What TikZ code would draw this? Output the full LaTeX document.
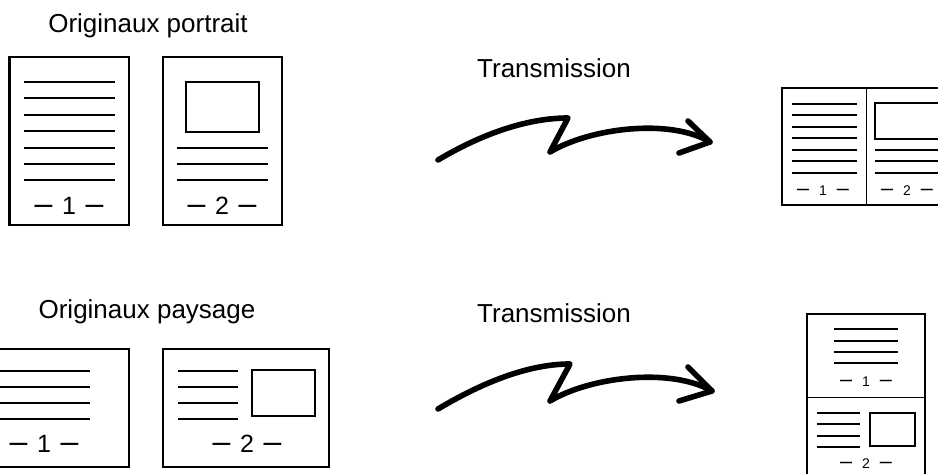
\documentclass[tikz,border=0pt]{standalone}
\usepackage{fontspec}
\setmainfont{Liberation Sans}
\usetikzlibrary{positioning}

% tirets des numeros de page
\newcommand{\pgdash}{{\fontsize{16}{16}\selectfont –}}
\newcommand{\spgdash}{{\fontsize{10.8}{11}\selectfont –}}

\begin{document}
\begin{tikzpicture}[
	x=0.5pt, y=-0.5pt,
	page/.style={draw, line width=1.25pt},
	fold/.style={draw, line width=0.5pt},
	txtline/.style={line width=1pt},
	photo/.style={draw, line width=1.1pt},
	title/.style={font=\fontsize{13}{15}\selectfont, anchor=base, inner sep=0pt},
	pnum/.style={font=\fontsize{12.5}{15}\selectfont, anchor=base, inner sep=0pt},
	spnum/.style={font=\fontsize{7}{9}\selectfont, anchor=base, inner sep=0pt},
	zigarrow/.style={line width=2.8pt, line cap=round, line join=round}
	]
	\useasboundingbox (0,0) rectangle (938,474);
	\clip (0,0) rectangle (938,474);
	
	% --- ORIGINAUX PORTRAIT ---
	\node[title] (tportrait) at (148,33) {Originaux portrait};
	
	\draw[page] (9.5,57) rectangle (129,225);
	\foreach \y in {82,98,115,131,148,164,180}
		\draw[txtline] (24,\y) -- (115,\y);
	\node[pnum] (pa1) at (69,215) {\pgdash\hspace{4.8pt}1\hspace{4.8pt}\pgdash};
	
	\draw[page] (163,57) rectangle (282,225);
	\draw[photo] (186,82) rectangle (259,132);
	\foreach \y in {148,164,180}
		\draw[txtline] (177,\y) -- (268,\y);
	\node[pnum] (pa2) at (222,215) {\pgdash\hspace{4.8pt}2\hspace{4.8pt}\pgdash};
	
	% --- TRANSMISSION (haut) ---
	\node[title] (ttop) at (554,78) {Transmission};
	\draw[zigarrow] (438,160) .. controls (485,132) and (530,118) .. (568,118)
		-- (550,152) .. controls (590,128) and (670,118) .. (710,142);
	\draw[zigarrow] (688,121) -- (710,142) -- (679,153);
	
	% --- RECEPTION PORTRAIT (2 en 1) ---
	\draw[page] (782,88) rectangle (950,205);
	\draw[fold] (866,88) -- (866,205);
	\foreach \y in {104,115,127,138,150,161,173}
		\draw[txtline] (792,\y) -- (857,\y);
	\draw[photo] (875,103) rectangle (945,139);
	\foreach \y in {150,161,173}
		\draw[txtline] (875,\y) -- (945,\y);
	\node[spnum] (pc1) at (823,196) {\spgdash\hspace{5pt}1\hspace{5pt}\spgdash};
	\node[spnum] (pc2) at (907,196) {\spgdash\hspace{5pt}2\hspace{5pt}\spgdash};
	
	% --- ORIGINAUX PAYSAGE ---
	\node[title] (tpaysage) at (147,319) {Originaux paysage};
	
	\draw[page] (-37,349) rectangle (129,467);
	\foreach \y in {371,387,403,419}
		\draw[txtline] (-30,\y) -- (90,\y);
	\node[pnum] (pb1) at (44,453) {\pgdash\hspace{4.8pt}1\hspace{4.8pt}\pgdash};
	
	\draw[page] (163,349) rectangle (329,467);
	\foreach \y in {371,387,403,419}
		\draw[txtline] (178,\y) -- (238,\y);
	\draw[photo] (252,370) rectangle (315,416);
	\node[pnum] (pb2) at (247,453) {\pgdash\hspace{4.8pt}2\hspace{4.8pt}\pgdash};
	
	% --- TRANSMISSION (bas) ---
	\node[title] (tbottom) at (554,323) {Transmission};
	\begin{scope}[shift={(0,249)}]
		\draw[zigarrow] (438,160) .. controls (485,132) and (530,115) .. (570,115)
			-- (550,152) .. controls (590,128) and (670,118) .. (712,142);
		\draw[zigarrow] (688,118) -- (712,142) -- (679,152);
	\end{scope}
	
	% --- RECEPTION PAYSAGE (2 en 1) ---
	\draw[page] (807,314) rectangle (925,482);
	\draw[fold] (807,398) -- (925,398);
	\foreach \y in {329,341,352,363}
		\draw[txtline] (834,\y) -- (898,\y);
	\node[spnum] (pd1) at (866,387) {\spgdash\hspace{5pt}1\hspace{5pt}\spgdash};
	\foreach \y in {413,424,436,447}
		\draw[txtline] (817,\y) -- (860,\y);
	\draw[photo] (870,413) rectangle (915,446);
	\node[spnum] (pd2) at (866,469) {\spgdash\hspace{5pt}2\hspace{5pt}\spgdash};
	
\end{tikzpicture}
\end{document}
